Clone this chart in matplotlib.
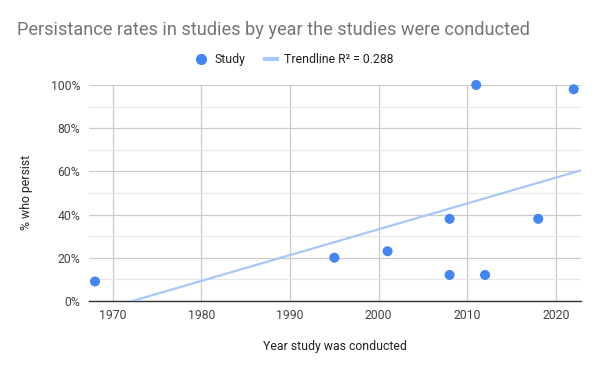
import matplotlib
matplotlib.use('Agg')
import matplotlib.pyplot as plt
import numpy as np
from matplotlib.ticker import MultipleLocator, FuncFormatter
from matplotlib.lines import Line2D

# Data
years = [1968, 1995, 2001, 2008, 2008, 2011, 2012, 2018, 2022]
persist_pct = [9, 20, 23, 38, 12, 100, 12, 38, 98]

title = 'Persistance rates in studies by year the studies were conducted'
x_label = 'Year study was conducted'
y_label = '% who persist'

plt.rcParams['font.family'] = ['Roboto', 'DejaVu Sans']

x = np.array(years, dtype=float)
y = np.array(persist_pct, dtype=float)

# Linear trendline and R^2
slope, intercept = np.polyfit(x, y, 1)
pred = slope * x + intercept
r2 = 1 - np.sum((y - pred) ** 2) / np.sum((y - y.mean()) ** 2)

fig = plt.figure(figsize=(6, 3.71), dpi=100, facecolor='white')
ax = fig.add_axes([0.148, 0.189, 0.820, 0.582])

xmin, xmax = 1967.3, 2022.8
xs = np.array([xmin, xmax])
ax.plot(xs, slope * xs + intercept, color='#a8c7fa', linewidth=1.6, zorder=3)
ax.scatter(x, y, s=52, color='#4285f4', edgecolors='none', zorder=4, clip_on=False)

ax.set_xlim(xmin, xmax)
ax.set_ylim(0, 100)

ax.xaxis.set_major_locator(MultipleLocator(10))
ax.yaxis.set_major_locator(MultipleLocator(20))
ax.yaxis.set_minor_locator(MultipleLocator(10))
ax.yaxis.set_major_formatter(FuncFormatter(lambda v, p: f'{int(v)}%'))

ax.grid(True, which='major', color='#cccccc', linewidth=0.9)
ax.grid(True, which='minor', axis='y', color='#e8e8e8', linewidth=0.9)
ax.set_axisbelow(True)

for side in ['top', 'right', 'left']:
    ax.spines[side].set_visible(False)
ax.spines['bottom'].set_color('#333333')
ax.spines['bottom'].set_linewidth(1.0)

ax.tick_params(axis='both', which='both', length=0, labelsize=8.8, labelcolor='#444444')
ax.tick_params(axis='x', pad=6)
ax.tick_params(axis='y', pad=6)

ax.set_xlabel(x_label, fontsize=8.8, color='#222222', labelpad=13)
ax.set_ylabel(y_label, fontsize=8.8, color='#222222', labelpad=13)

fig.text(0.028, 0.918, title, fontsize=13.1, color='#757575', ha='left', va='center')

handles = [
    Line2D([0], [0], marker='o', linestyle='none', markersize=8,
           markerfacecolor='#4285f4', markeredgecolor='none', label='Study'),
    Line2D([0], [0], color='#a8c7fa', linewidth=3, label=f'Trendline R² = {r2:.3f}'),
]
fig.legend(handles=handles, loc='center', bbox_to_anchor=(0.49, 0.84), ncol=2,
           frameon=False, fontsize=8.8, handlelength=1.0, handletextpad=0.6,
           columnspacing=1.6, labelcolor='#222222')

fig.savefig('out.png', dpi=100, facecolor='white')
